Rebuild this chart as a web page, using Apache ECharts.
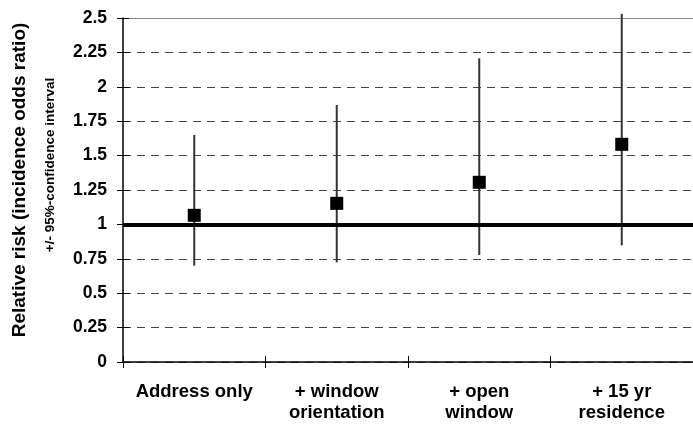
<!DOCTYPE html>
<html>
<head>
<meta charset="utf-8">
<script src="https://cdn.jsdelivr.net/npm/echarts@6/dist/echarts.min.js"></script>
<style>
  html, body { margin: 0; padding: 0; background: #fff; }
  #chart { width: 693px; height: 427px; }
</style>
</head>
<body>
<div id="chart"></div>
<script>
// Models of increasing adjustment
const categories = ['Address only', '+ window\norientation', '+ open\nwindow', '+ 15 yr\nresidence'];
// Point estimates (incidence odds ratio)
const oddsRatio = [1.066, 1.153, 1.306, 1.582];
// 95% confidence interval bounds
const ciLower = [0.70, 0.725, 0.778, 0.848];
const ciUpper = [1.65, 1.868, 2.207, 2.53];
// Value axis ticks
const yTicks = ['0', '0.25', '0.5', '0.75', '1', '1.25', '1.5', '1.75', '2', '2.25', '2.5'];
const referenceRatio = 1;

const FONT = 'Liberation Sans, Arial, sans-serif';
const chart = echarts.init(document.getElementById('chart'), null, { renderer: 'canvas' });

const errorData = categories.map((c, i) => [i, ciLower[i], ciUpper[i]]);
const pointData = categories.map((c, i) => [i, oddsRatio[i]]);

chart.setOption({
  animation: false,
  backgroundColor: '#fff',
  grid: { left: 123, top: 18, width: 580, bottom: 65, containLabel: false },
  xAxis: [
    {
      type: 'category',
      data: categories,
      boundaryGap: true,
      axisLine: { show: true, lineStyle: { color: '#000', width: 1.5 } },
      axisTick: { show: true, length: 6, lineStyle: { color: '#000', width: 1 } },
      axisLabel: {
        color: '#000', fontFamily: FONT, fontWeight: 'bold', fontSize: 18.5,
        lineHeight: 21, margin: 19, interval: 0
      },
      splitLine: { show: false }
    },
    {
      // inward half of the crossing tick marks
      type: 'category',
      data: categories,
      position: 'bottom',
      boundaryGap: true,
      axisLine: { show: false },
      axisTick: { show: true, inside: true, length: 6, lineStyle: { color: '#000', width: 1 } },
      axisLabel: { show: false },
      splitLine: { show: false }
    },
    {
      // top border of the plot area
      type: 'category',
      data: categories,
      position: 'top',
      axisLine: { show: true, lineStyle: { color: '#888', width: 1 } },
      axisTick: { show: false },
      axisLabel: { show: false },
      splitLine: { show: false }
    }
  ],
  yAxis: [
    {
      type: 'value',
      min: 0, max: 2.5, interval: 0.25,
      axisLine: { show: true, lineStyle: { color: '#000', width: 1.5 } },
      axisTick: { show: true, length: 6, lineStyle: { color: '#000', width: 1 } },
      axisLabel: {
        color: '#000', fontFamily: FONT, fontWeight: 'bold', fontSize: 17.5, margin: 16,
        formatter: (v) => yTicks[Math.round(v / 0.25)]
      },
      splitLine: {
        show: true,
        lineStyle: { color: '#444', width: 1, type: [8, 6] }
      }
    },
    {
      type: 'value',
      position: 'left',
      min: 0, max: 2.5, interval: 0.25,
      axisLine: { show: false },
      axisTick: { show: true, inside: true, length: 6, lineStyle: { color: '#000', width: 1 } },
      axisLabel: { show: false },
      splitLine: { show: false }
    }
  ],
  series: [
    {
      type: 'custom',
      name: 'CI',
      xAxisIndex: 0,
      yAxisIndex: 0,
      data: errorData,
      z: 3,
      renderItem: function (params, api) {
        const x = api.value(0);
        const lo = api.coord([x, api.value(1)]);
        const hi = api.coord([x, api.value(2)]);
        return {
          type: 'line',
          shape: { x1: lo[0], y1: lo[1], x2: hi[0], y2: hi[1] },
          style: { stroke: '#333', lineWidth: 2 }
        };
      }
    },
    {
      type: 'scatter',
      name: 'OR',
      xAxisIndex: 0,
      yAxisIndex: 0,
      data: pointData,
      symbol: 'rect',
      symbolSize: 13,
      itemStyle: { color: '#000', opacity: 1 },
      z: 5,
      markLine: {
        silent: true,
        symbol: ['none', 'none'],
        label: { show: false },
        lineStyle: { color: '#000', width: 4, type: 'solid' },
        data: [{ yAxis: referenceRatio }],
        z: 4
      }
    }
  ],
  graphic: [
    {
      type: 'text',
      x: 20, y: 180,
      rotation: Math.PI / 2,
      style: {
        text: 'Relative risk (incidence odds ratio)',
        font: 'bold 19px ' + FONT,
        fill: '#000',
        align: 'center',
        verticalAlign: 'middle'
      }
    },
    {
      type: 'text',
      x: 50, y: 165,
      rotation: Math.PI / 2,
      style: {
        text: '+/- 95%-confidence interval',
        font: 'bold 13.5px ' + FONT,
        fill: '#000',
        align: 'center',
        verticalAlign: 'middle'
      }
    }
  ]
});
</script>
</body>
</html>
